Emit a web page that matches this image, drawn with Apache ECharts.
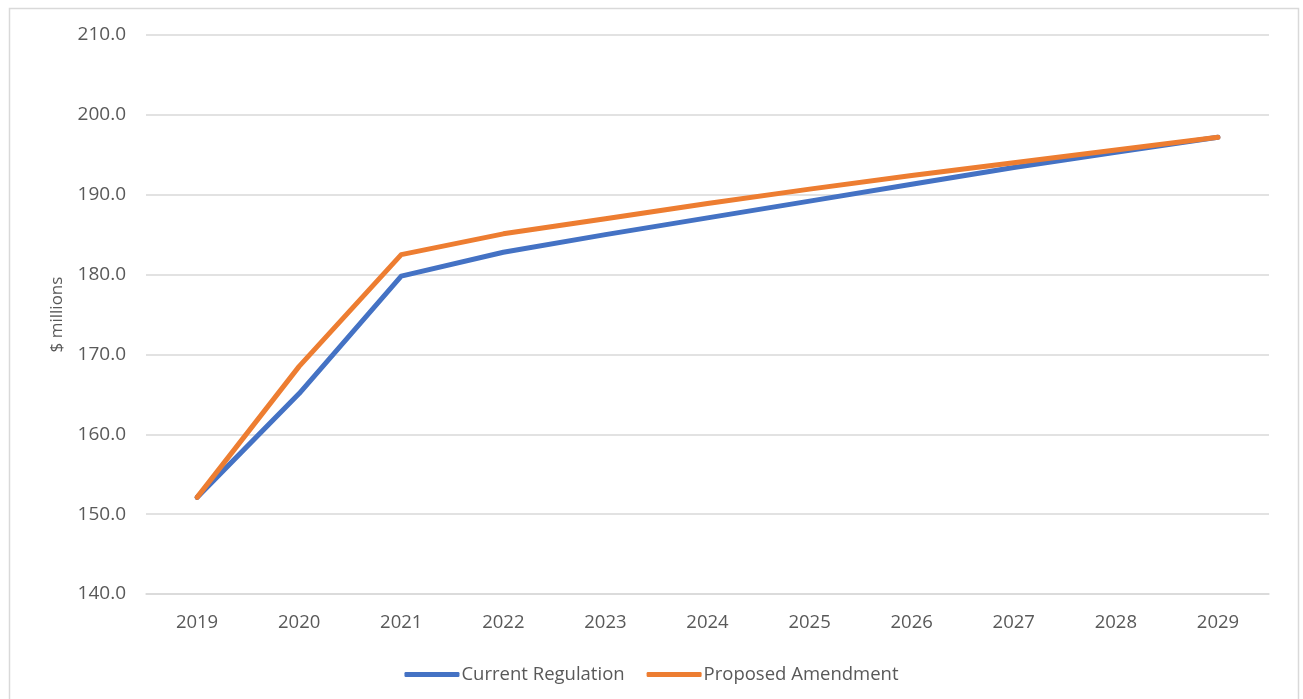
<!DOCTYPE html>
<html>
<head>
<meta charset="utf-8">
<script src="https://cdn.jsdelivr.net/npm/echarts@6/dist/echarts.min.js"></script>
<style>
html,body{margin:0;padding:0;background:#fff;}
#chart{width:1303px;height:699px;}
</style>
</head>
<body>
<div id="chart"></div>
<script>
const years = ['2019','2020','2021','2022','2023','2024','2025','2026','2027','2028','2029'];
const currentRegulation = [152.1,165.1,179.8,182.8,185.0,187.1,189.2,191.3,193.4,195.3,197.2];
const proposedAmendment = [152.1,168.5,182.5,185.1,187.0,188.9,190.7,192.4,194.0,195.6,197.2];
const yTicks = {min:140, max:210, interval:10};

const chart = echarts.init(document.getElementById('chart'));
const font = 'Open Sans, Noto Sans, sans-serif';
chart.setOption({
  animation:false,
  backgroundColor:'#fff',
  graphic:[{type:'rect',left:7,top:6,shape:{width:1289,height:720},style:{fill:'none',stroke:'#d9d9d9',lineWidth:1.5},silent:true}],
  grid:{left:146,right:34,top:35,bottom:105},
  legend:{
    bottom:10,left:'center',
    icon:'roundRect',itemWidth:55,itemHeight:5,itemGap:22,
    textStyle:{color:'#595959',fontSize:18.5,fontFamily:font,padding:[0,0,0,-3]},
    data:['Current Regulation','Proposed Amendment']
  },
  xAxis:{
    type:'category',data:years,boundaryGap:true,
    axisLine:{show:true,lineStyle:{color:'#d9d9d9',width:1.5}},
    axisTick:{show:false},
    axisLabel:{color:'#595959',fontSize:18.5,fontFamily:font,margin:19}
  },
  yAxis:{
    type:'value',min:yTicks.min,max:yTicks.max,interval:yTicks.interval,
    name:'$ millions',nameLocation:'middle',nameGap:80,nameRotate:90,
    nameTextStyle:{color:'#595959',fontSize:17,fontFamily:font},
    axisLine:{show:false},axisTick:{show:false},
    splitLine:{lineStyle:{color:'#d9d9d9',width:1.5}},
    axisLabel:{color:'#595959',fontSize:19,fontFamily:font,margin:20,formatter:v=>v.toFixed(1)}
  },
  series:[
    {name:'Current Regulation',type:'line',data:currentRegulation,showSymbol:false,symbol:'none',
     lineStyle:{color:'#4472C4',width:5,cap:'round',join:'round'},itemStyle:{color:'#4472C4'}},
    {name:'Proposed Amendment',type:'line',data:proposedAmendment,showSymbol:false,symbol:'none',
     lineStyle:{color:'#ED7D31',width:5,cap:'round',join:'round'},itemStyle:{color:'#ED7D31'}}
  ]
});
</script>
</body>
</html>
